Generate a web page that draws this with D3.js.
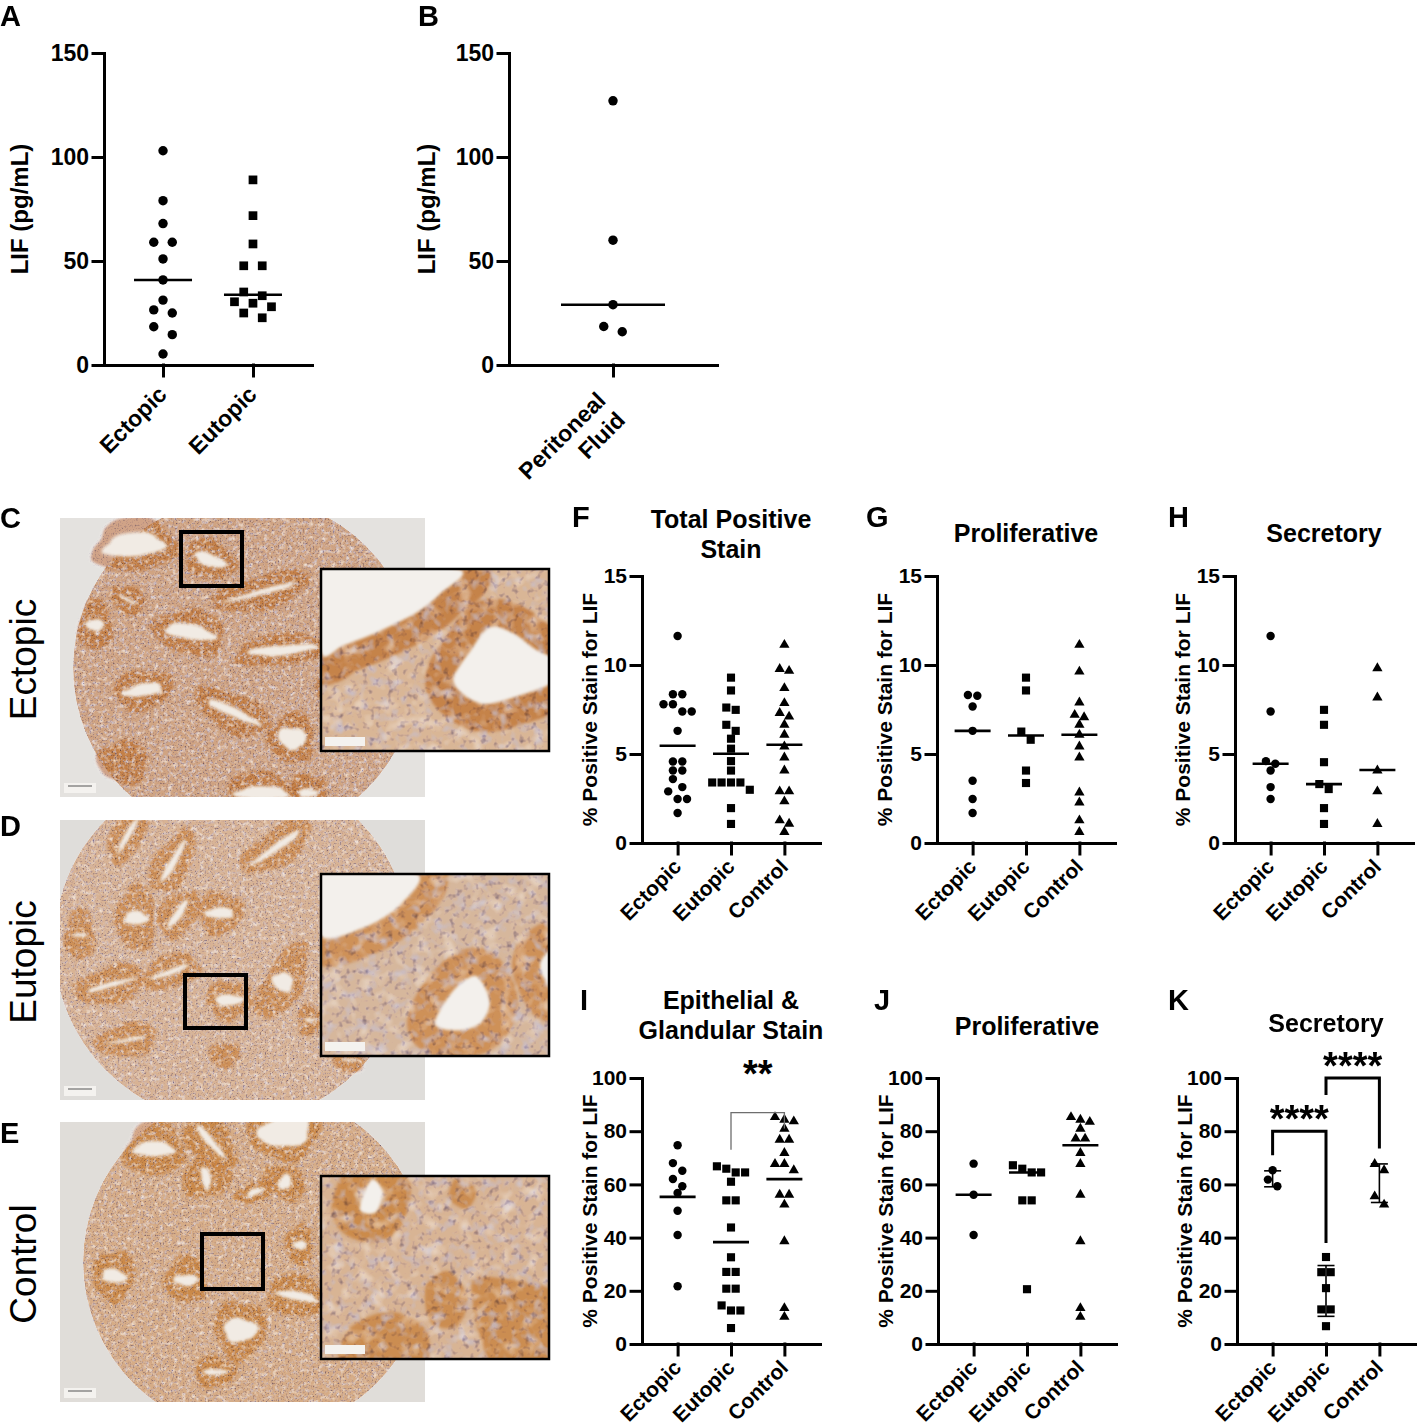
<!DOCTYPE html>
<html>
<head>
<meta charset="utf-8">
<script src="https://cdn.jsdelivr.net/npm/d3@7"></script>
<style>
  body { margin: 0; background: #fff; }
  svg { display: block; }
</style>
</head>
<body>
<svg id="fig"></svg>
<script>
const FONT = '"Liberation Sans", Arial, Helvetica, sans-serif';
const width = 1418, height = 1428;

// ---- categories and ticks
const groupsAB = ["Ectopic", "Eutopic"];
const groupsFK = ["Ectopic", "Eutopic", "Control"];
const fluidCats = ["Peritoneal\nFluid"];
const ticksLIF = [0, 50, 100, 150];
const ticksPct15 = [0, 5, 10, 15];
const ticksPct100 = [0, 20, 40, 60, 80, 100];

// ---- A: LIF (pg/mL), tissue lysate
const serumEctopic = [103, 79, 68, 59, 59, 51, 40.9, 31.2, 26.5, 25, 18.4, 14.6, 5.3];
const serumEutopic = [89, 71.8, 58.2, 47.7, 47.7, 35.1, 33.3, 30.4, 29.7, 28, 25, 22.7];
const serumLines = [40.9, 33.8];

// ---- B: peritoneal fluid
const fluidValues = [127, 60, 29, 18.5, 16];
const fluidLines = [29];

// ---- F: total positive stain
const totalEctopic = [11.63, 8.36, 8.36, 7.8, 7.8, 7.39, 7.39, 6.3, 4.58, 4.58, 4.07, 4.07, 3.59, 3.14, 2.9, 2.47, 2.47, 1.68];
const totalEutopic = [9.29, 8.57, 7.61, 7.48, 6.64, 6.3, 5.86, 5.3, 4.6, 4.07, 3.4, 3.4, 3.4, 3.4, 2.99, 1.96, 1.07];
const totalControl = [11.13, 9.78, 9.67, 8.7, 7.86, 7.3, 7.1, 6.64, 6.08, 5.42, 4.8, 4.07, 2.9, 2.9, 2.34, 1.27, 1.08, 0.62];
const totalLines = [5.46, 5.01, 5.52];

// ---- G: total stain, proliferative
const prolEctopic = [8.32, 8.27, 7.67, 6.3, 3.5, 2.47, 1.68];
const prolEutopic = [9.29, 8.57, 6.26, 5.8, 4.07, 3.37];
const prolControl = [11.13, 9.63, 7.89, 7.2, 7.07, 6.64, 6.08, 5.42, 4.8, 2.84, 2.28, 1.27, 0.62];
const prolLines = [6.3, 6.04, 6.08];

// ---- H: total stain, secretory
const secrEctopic = [11.63, 7.39, 4.6, 4.45, 4.07, 3.14, 2.47];
const secrEutopic = [7.48, 6.64, 4.54, 3.31, 3.03, 1.96, 1.07];
const secrControl = [9.82, 8.17, 4.07, 2.9, 1.07];
const secrLines = [4.45, 3.31, 4.1];

// ---- I: epithelial & glandular stain
const epiEctopic = [74.7, 68, 65.1, 62, 59.3, 56.8, 50.1, 41, 21.7];
const epiEutopic = [66.8, 65.9, 64.5, 64.5, 61, 54, 54, 43.8, 32.6, 27.1, 27.1, 20.8, 20.8, 14.5, 12.6, 12.6, 6];
const epiControl = [85.3, 84.3, 83.7, 80.9, 76.8, 76.8, 71.8, 67.7, 67.7, 65.3, 56.1, 56.1, 52.4, 38.6, 13.5, 10.2];
const epiLines = [55.3, 38.3, 62];
const epiSig = [{ a: "Eutopic", b: "Control", level: 87, legA: 73, legB: 81, label: "**" }];

// ---- J: epithelial, proliferative
const epiProlEctopic = [67.8, 56.1, 41];
const epiProlEutopic = [67.2, 65.9, 64.5, 64.5, 54, 54, 20.6];
const epiProlControl = [85.3, 84.3, 83.5, 80.9, 77.2, 77.2, 71.8, 67.7, 56.1, 38.6, 13.5, 10.2];
const epiProlLines = [56.1, 64.5, 74.7];

// ---- K: epithelial, secretory (mean +/- SD)
const epiSecrEctopic = [65.3, 61.8, 59.3];
const epiSecrEutopic = [32.7, 27, 27, 21, 13, 13, 6.7];
const epiSecrControl = [67.7, 65.3, 55.5, 52.4];
const epiSecrLow = [59.1, 10.4, 53.2];
const epiSecrHigh = [65.1, 29.5, 67.7];
const epiSecrSig = [
  { a: "Ectopic", b: "Eutopic", level: 80, legA: 71, legB: 38, label: "****" },
  { a: "Eutopic", b: "Control", level: 100, legA: 93.6, legB: 73.5, label: "****" }
];

const svg = d3.select("#fig").attr("width", width).attr("height", height)
  .attr("viewBox", [0, 0, width, height]);
const defs = svg.append("defs");

const symbolTypes = [d3.symbolCircle, d3.symbolSquare, d3.symbolTriangle];

// GraphPad-like scatter: points close in y share a row, spread around the centre
function swarm(values, y, spacing, thresh) {
  const pts = values.map(v => ({ v, py: y(v) })).sort((a, b) => a.py - b.py);
  const out = [];
  let row = [];
  const flush = () => {
    row.forEach((p, i) => { p.dx = (i - (row.length - 1) / 2) * spacing; out.push(p); });
    row = [];
  };
  pts.forEach(p => {
    if (row.length && p.py - row[0].py > thresh) flush();
    row.push(p);
  });
  flush();
  return out;
}

function styleAxis(ax, fs) {
  ax.attr("font-family", FONT).attr("font-size", fs).attr("font-weight", "bold");
  ax.selectAll(".domain, .tick line")
    .attr("stroke", "#000").attr("stroke-width", 3).attr("stroke-linecap", "square");
  ax.selectAll(".tick text").attr("fill", "#000");
}

function dotPanel(p) {
  const g = svg.append("g");
  const x = d3.scalePoint().domain(p.cats).range([p.ax, p.ax + p.w]).padding(p.pad);
  const y = d3.scaleLinear().domain([0, p.max]).range([p.y0, p.yTop]);

  g.append("g").attr("transform", `translate(${p.ax},0)`)
    .call(d3.axisLeft(y).tickValues(p.ticks).tickSize(11).tickSizeOuter(0).tickPadding(4))
    .call(styleAxis, p.tickFont);

  g.append("g").attr("transform", `translate(0,${p.y0})`)
    .call(d3.axisBottom(x).tickSize(11).tickSizeOuter(0).tickFormat(""))
    .call(styleAxis, p.tickFont);

  // category labels, rotated
  p.cats.forEach(c => {
    const t = g.append("text")
      .attr("transform", `translate(${x(c) + p.catDx},${p.y0 + p.catDy}) rotate(-45)`)
      .attr("text-anchor", "end")
      .attr("font-family", FONT).attr("font-size", p.catFont).attr("font-weight", "bold");
    c.split("\n").forEach((l, i) => t.append("tspan").attr("x", 0).attr("dy", i ? "1.2em" : 0).text(l));
  });

  // y title
  g.append("text")
    .attr("transform", `translate(${p.ax - p.titleDx},${(p.y0 + p.yTop) / 2}) rotate(-90)`)
    .attr("text-anchor", "middle")
    .attr("font-family", FONT).attr("font-size", p.titleFont).attr("font-weight", "bold")
    .text(p.yTitle);

  // points
  p.series.forEach((vals, i) => {
    const c = p.cats[i];
    const pts = swarm(vals, y, p.spacing, p.thresh);
    g.append("g").selectAll("path").data(pts).join("path")
      .attr("transform", d => `translate(${x(c) + d.dx},${d.py})`)
      .attr("d", d3.symbol(symbolTypes[i], p.sizes[i]))
      .attr("fill", "#000");
  });

  // centre lines
  if (p.lines) {
    g.append("g").selectAll("line").data(p.lines).join("line")
      .attr("x1", (d, i) => x(p.cats[i]) - p.lineHalf)
      .attr("x2", (d, i) => x(p.cats[i]) + p.lineHalf)
      .attr("y1", d => y(d)).attr("y2", d => y(d))
      .attr("stroke", "#000").attr("stroke-width", 2.6);
  }

  // error bars (mean +/- SD)
  if (p.low) {
    const eb = g.append("g").attr("stroke", "#000").attr("stroke-width", 1.6);
    p.low.forEach((lo, i) => {
      const cx = x(p.cats[i]), hi = p.high[i];
      eb.append("line").attr("x1", cx).attr("x2", cx).attr("y1", y(lo)).attr("y2", y(hi));
      [lo, hi].forEach(v => eb.append("line")
        .attr("x1", cx - 8.5).attr("x2", cx + 8.5).attr("y1", y(v)).attr("y2", y(v)));
    });
  }

  // significance brackets
  (p.sig || []).forEach(s => {
    const xa = x(s.a), xb = x(s.b);
    g.append("path")
      .attr("d", `M${xa},${y(s.legA)}V${y(s.level)}H${xb}V${y(s.legB)}`)
      .attr("fill", "none")
      .attr("stroke", p.sigColor).attr("stroke-width", p.sigWidth);
    g.append("text")
      .attr("x", (xa + xb) / 2).attr("y", y(s.level) + p.starDy)
      .attr("text-anchor", "middle")
      .attr("font-family", FONT).attr("font-size", 38).attr("font-weight", "bold")
      .text(s.label);
  });

  // panel title
  if (p.title) {
    p.title.forEach((t, i) => g.append("text")
      .attr("x", p.ax + p.w / 2).attr("y", p.titleY + i * 30)
      .attr("text-anchor", "middle")
      .attr("font-family", FONT).attr("font-size", 25).attr("font-weight", "bold")
      .text(t));
  }
}

const topRow = { cats: groupsFK, ticks: ticksPct15, max: 15, w: 178, pad: 0.667, y0: 843, yTop: 576,
  tickFont: 21, catFont: 21, catDx: 5, catDy: 25, titleFont: 21, titleDx: 45,
  yTitle: "% Positive Stain for LIF", spacing: 9.4, thresh: 8.5, sizes: [56, 66, 46], lineHalf: 18 };
const botRow = Object.assign({}, topRow, { ticks: ticksPct100, max: 100, y0: 1344, yTop: 1078 });

const panels = [
  { cats: groupsAB, ticks: ticksLIF, max: 150, ax: 104, w: 208, pad: 0.656, y0: 365, yTop: 53,
    tickFont: 23, catFont: 23, catDx: 5, catDy: 31, titleFont: 24, titleDx: 76, yTitle: "LIF (pg/mL)",
    series: [serumEctopic, serumEutopic], lines: serumLines, spacing: 18.5, thresh: 9,
    sizes: [70, 76], lineHalf: 29 },
  { cats: fluidCats, ticks: ticksLIF, max: 150, ax: 509, w: 208, pad: 0.5, y0: 365, yTop: 53,
    tickFont: 23, catFont: 23, catDx: -6, catDy: 37, titleFont: 24, titleDx: 74, yTitle: "LIF (pg/mL)",
    series: [fluidValues], lines: fluidLines, spacing: 18.5, thresh: 9, sizes: [70], lineHalf: 52 },
  Object.assign({}, topRow, { ax: 642, series: [totalEctopic, totalEutopic, totalControl], lines: totalLines,
    title: ["Total Positive", "Stain"], titleY: 528 }),
  Object.assign({}, topRow, { ax: 937, series: [prolEctopic, prolEutopic, prolControl], lines: prolLines,
    title: ["Proliferative"], titleY: 542 }),
  Object.assign({}, topRow, { ax: 1235, series: [secrEctopic, secrEutopic, secrControl], lines: secrLines,
    title: ["Secretory"], titleY: 542 }),
  Object.assign({}, botRow, { ax: 642, series: [epiEctopic, epiEutopic, epiControl], lines: epiLines,
    title: ["Epithelial &", "Glandular Stain"], titleY: 1009,
    sig: epiSig, sigColor: "#6e6e6e", sigWidth: 1.3, starDy: -26 }),
  Object.assign({}, botRow, { ax: 938, series: [epiProlEctopic, epiProlEutopic, epiProlControl], lines: epiProlLines,
    title: ["Proliferative"], titleY: 1035 }),
  Object.assign({}, botRow, { ax: 1237, series: [epiSecrEctopic, epiSecrEutopic, epiSecrControl],
    low: epiSecrLow, high: epiSecrHigh, title: ["Secretory"], titleY: 1032,
    sig: epiSecrSig, sigColor: "#000", sigWidth: 3, starDy: 1 })
];

// ---------------- stained tissue micrographs (C, D, E) ----------------
function grainFilter(id, freq, seed, gain) {
  const f = defs.append("filter").attr("id", id).attr("x", 0).attr("y", 0).attr("width", 1).attr("height", 1);
  f.append("feTurbulence").attr("type", "fractalNoise").attr("baseFrequency", freq)
    .attr("numOctaves", 2).attr("seed", seed).attr("result", "n");
  f.append("feColorMatrix").attr("in", "n").attr("type", "matrix")
    .attr("values", `${gain} 0 0 0 ${1.1 - gain / 2}  ${gain} 0 0 0 ${1.08 - gain / 2}  ${gain * 0.75} 0 0 0 ${1.12 - gain * 0.375}  0 0 0 0 1`)
    .attr("result", "g");
  f.append("feBlend").attr("in", "SourceGraphic").attr("in2", "g").attr("mode", "multiply").attr("result", "m");
  f.append("feComposite").attr("in", "m").attr("in2", "SourceGraphic").attr("operator", "in");
}
function mottleFilter(id, freq, seed, rgb, k, oct) {
  const f = defs.append("filter").attr("id", id).attr("x", 0).attr("y", 0).attr("width", 1).attr("height", 1);
  f.append("feTurbulence").attr("type", "fractalNoise").attr("baseFrequency", freq)
    .attr("numOctaves", oct).attr("seed", seed).attr("result", "n");
  f.append("feColorMatrix").attr("in", "n").attr("type", "matrix")
    .attr("values", `0 0 0 0 ${rgb[0]}  0 0 0 0 ${rgb[1]}  0 0 0 0 ${rgb[2]}  ${k} 0 0 0 ${-k * 0.5}`)
    .attr("result", "c");
  f.append("feComposite").attr("in", "c").attr("in2", "SourceGraphic").attr("operator", "in");
}
grainFilter("grainFine", 0.6, 4, 2.2);
grainFilter("grainCoarse", 0.16, 9, 1.8);
mottleFilter("purple", 0.28, 2, [0.6, 0.55, 0.64], 2.8, 2);
mottleFilter("purpleBig", 0.09, 5, [0.56, 0.52, 0.64], 2.8, 2);
mottleFilter("pale", 0.22, 8, [0.97, 0.93, 0.89], 2.6, 2);
mottleFilter("paleBig", 0.07, 11, [0.97, 0.93, 0.89], 2.4, 2);
defs.append("filter").attr("id", "soft")
  .attr("filterUnits", "userSpaceOnUse").attr("x", 0).attr("y", 0).attr("width", width).attr("height", height)
  .append("feGaussianBlur").attr("stdDeviation", 1.6);

const micrographs = [
  { key: "C", label: "Ectopic", img: [60, 518, 365, 279], bg: "#e4e2df", tissue: [245, 668, 172],
    base: "#d0a482", purple: 0.9, band: "#c27a3c",
    // [cx, cy, length, width, angle, lumen fraction]
    glands: [[134, 545, 72, 44, -5, 0.55], [210, 560, 40, 28, 20, 0.45], [262, 592, 90, 22, -15, 0.25],
      [190, 632, 60, 34, 10, 0.45], [282, 650, 84, 20, -5, 0.5], [143, 690, 48, 28, -10, 0.45],
      [233, 712, 70, 26, 25, 0.35], [292, 738, 34, 40, 10, 0.55], [262, 793, 64, 30, 0, 0.45],
      [308, 793, 24, 30, 0, 0.3], [123, 762, 40, 32, 0, 0], [95, 625, 22, 40, 0, 0.3],
      [402, 720, 20, 50, 0, 0.2], [335, 690, 26, 22, 0, 0.3], [128, 600, 24, 16, 30, 0.2]],
    box: [181, 532, 61, 54], inset: [321, 569, 228, 182],
    lumens: [[[0, 0], [0.6, 0], [0.52, 0.14], [0.42, 0.24], [0.26, 0.34], [0.1, 0.42], [0, 0.46]],
      [[0.58, 0.62], [0.66, 0.44], [0.74, 0.32], [0.84, 0.35], [0.94, 0.44], [1.02, 0.5], [1.02, 0.62], [0.86, 0.7], [0.7, 0.74]]],
    insetGlands: [], insetTone: "#d9b696" },
  { key: "D", label: "Eutopic", img: [60, 820, 365, 280], bg: "#dfddda", tissue: [232, 945, 178],
    base: "#d8b394", purple: 0.7, band: "#cc8a4e",
    glands: [[128, 835, 50, 20, -60, 0.3], [173, 862, 58, 24, -60, 0.3], [277, 847, 70, 24, -35, 0.3],
      [136, 918, 28, 56, 0, 0.25], [178, 914, 40, 26, -55, 0.3], [220, 913, 34, 32, 0, 0.35],
      [110, 985, 60, 26, -15, 0.2], [170, 972, 50, 22, -20, 0.25], [283, 982, 26, 75, 30, 0.25],
      [229, 1000, 34, 28, 0, 0.4], [127, 1040, 50, 22, -10, 0.15], [80, 935, 18, 40, 0, 0.1],
      [310, 1020, 14, 20, 0, 0.2], [225, 1055, 20, 14, 0, 0], [350, 1060, 20, 14, 0, 0.2]],
    box: [185, 975, 61, 53], inset: [321, 874, 228, 182],
    lumens: [[[0, 0], [0.42, 0], [0.34, 0.18], [0.18, 0.3], [0, 0.34]],
      [[0.5, 0.82], [0.58, 0.64], [0.68, 0.56], [0.74, 0.7], [0.7, 0.82], [0.6, 0.86]],
      [[0.96, 0.5], [1.02, 0.42], [1.02, 0.66]]],
    insetGlands: [], insetTone: "#d6b79c" },
  { key: "E", label: "Control", img: [60, 1122, 365, 280], bg: "#e0ddd9", tissue: [255, 1262, 172],
    base: "#d6ac86", purple: 0.7, band: "#c9843f",
    glands: [[154, 1149, 48, 44, 0, 0.35], [210, 1141, 52, 30, 50, 0.25], [285, 1131, 62, 46, -10, 0.7],
      [206, 1178, 28, 38, 80, 0.25], [285, 1182, 20, 34, -60, 0.35], [255, 1192, 8, 30, 70, 0.6],
      [114, 1276, 30, 40, 10, 0.35], [186, 1280, 30, 36, 0, 0.3], [297, 1296, 50, 30, 10, 0.3],
      [240, 1330, 40, 48, 0, 0.5], [300, 1245, 16, 30, 0, 0.3], [348, 1320, 20, 28, 0, 0.3],
      [215, 1372, 30, 20, 0, 0.3], [368, 1210, 18, 26, 0, 0.2]],
    box: [202, 1234, 61, 55], inset: [321, 1176, 228, 183],
    lumens: [[[0.17, 0.18], [0.22, 0.02], [0.27, 0.08], [0.24, 0.2]]],
    insetGlands: [[[0.12, 0.84], [0.3, 0.74], [0.46, 0.84], [0.44, 1.05], [0.1, 1.05]],
      [[0.46, 0.6], [0.56, 0.52], [0.64, 0.66], [0.6, 0.82], [0.48, 0.8]],
      [[0.66, 0.6], [0.8, 0.56], [1.05, 0.66], [1.05, 1.05], [0.76, 1.05]],
      [[0.6, 0.0], [0.68, 0.08], [0.64, 0.18], [0.56, 0.12]]],
    insetTone: "#d8b494" }
];

const closed = d3.line().curve(d3.curveCardinalClosed.tension(0.1));

// organic outline for a gland: ellipse with a gentle deterministic wobble
function glandPath(cx, cy, len, wid, ang, scale, phase) {
  const a = ang * Math.PI / 180;
  const pts = d3.range(16).map(i => {
    const t = i / 16 * 2 * Math.PI;
    const wob = 1 + 0.1 * Math.sin(3 * t + phase) + 0.06 * Math.sin(5 * t + 2 * phase);
    const px = Math.cos(t) * len / 2 * wob * scale[0], py = Math.sin(t) * wid / 2 * wob * scale[1];
    return [cx + px * Math.cos(a) - py * Math.sin(a), cy + px * Math.sin(a) + py * Math.cos(a)];
  });
  return closed(pts);
}

function drawMicrograph(m) {
  const [ix, iy, iw, ih] = m.img;
  const clipId = "clip" + m.key;
  defs.append("clipPath").attr("id", clipId).append("rect")
    .attr("x", ix).attr("y", iy).attr("width", iw).attr("height", ih);
  const g = svg.append("g");
  g.append("rect").attr("x", ix).attr("y", iy).attr("width", iw).attr("height", ih).attr("fill", m.bg);

  const t = g.append("g").attr("clip-path", `url(#${clipId})`);
  const [cx, cy, r] = m.tissue;
  const tex = t.append("g").attr("filter", "url(#grainFine)");
  tex.append("circle").attr("cx", cx).attr("cy", cy).attr("r", r).attr("fill", m.base);
  const bands = tex.append("g").attr("filter", "url(#soft)");
  m.glands.forEach((d, i) => bands.append("path")
    .attr("d", glandPath(d[0], d[1], d[2] + 12, d[3] + 12, d[4], [1, 1], i * 1.7))
    .attr("fill", m.band).attr("opacity", 0.85));
  tex.append("circle").attr("cx", cx).attr("cy", cy).attr("r", r).attr("fill", "#000")
    .attr("filter", "url(#purple)").attr("opacity", m.purple);
  tex.append("circle").attr("cx", cx).attr("cy", cy).attr("r", r).attr("fill", "#000")
    .attr("filter", "url(#pale)").attr("opacity", 0.7);
  const lum = t.append("g").attr("filter", "url(#soft)");
  m.glands.filter(d => d[5] > 0).forEach((d, i) => lum.append("path")
    .attr("d", glandPath(d[0], d[1], d[2], d[3], d[4], [0.85, d[5]], i * 2.3))
    .attr("fill", "#f1ebe4"));

  // scale bar
  g.append("rect").attr("x", ix + 4).attr("y", iy + ih - 14).attr("width", 32).attr("height", 10).attr("fill", "#f4f2ef");
  g.append("line").attr("x1", ix + 8).attr("x2", ix + 32).attr("y1", iy + ih - 11).attr("y2", iy + ih - 11)
    .attr("stroke", "#555").attr("stroke-width", 1);

  // boxed region
  const [bx, by, bw, bh] = m.box;
  g.append("rect").attr("x", bx).attr("y", by).attr("width", bw).attr("height", bh)
    .attr("fill", "none").attr("stroke", "#000").attr("stroke-width", 4);

  // magnified inset
  const [nx, ny, nw, nh] = m.inset;
  const insetClip = "inset" + m.key;
  defs.append("clipPath").attr("id", insetClip).append("rect")
    .attr("x", nx).attr("y", ny).attr("width", nw).attr("height", nh);
  const n = g.append("g").attr("clip-path", `url(#${insetClip})`);
  const ntex = n.append("g").attr("filter", "url(#grainCoarse)");
  ntex.append("rect").attr("x", nx).attr("y", ny).attr("width", nw).attr("height", nh).attr("fill", m.insetTone);
  const toPx = pts => pts.map(([u, v]) => [nx + u * nw, ny + v * nh]);
  const nb = ntex.append("g").attr("filter", "url(#soft)");
  m.insetGlands.forEach(b => nb.append("path").attr("d", closed(toPx(b))).attr("fill", "#c98645").attr("opacity", 0.85));
  m.lumens.forEach(l => nb.append("path").attr("d", closed(toPx(l)))
    .attr("fill", "none").attr("stroke", m.band).attr("stroke-width", 56).attr("opacity", 0.85));
  ntex.append("rect").attr("x", nx).attr("y", ny).attr("width", nw).attr("height", nh).attr("fill", "#000")
    .attr("filter", "url(#purpleBig)").attr("opacity", 0.75);
  ntex.append("rect").attr("x", nx).attr("y", ny).attr("width", nw).attr("height", nh).attr("fill", "#000")
    .attr("filter", "url(#paleBig)").attr("opacity", 0.5);
  const nl = n.append("g").attr("filter", "url(#soft)");
  m.lumens.forEach(l => nl.append("path").attr("d", closed(toPx(l))).attr("fill", "#f3f0ec"));
  g.append("rect").attr("x", nx + 4).attr("y", ny + nh - 14).attr("width", 40).attr("height", 9).attr("fill", "#f4f2ef");
  g.append("rect").attr("x", nx).attr("y", ny).attr("width", nw).attr("height", nh)
    .attr("fill", "none").attr("stroke", "#000").attr("stroke-width", 2.5);

  // row label
  g.append("text")
    .attr("transform", `translate(36,${iy + ih / 2 + 2}) rotate(-90)`)
    .attr("text-anchor", "middle")
    .attr("font-family", FONT).attr("font-size", 37)
    .text(m.label);
}

micrographs.forEach(drawMicrograph);
panels.forEach(dotPanel);

// panel letters
const letters = [["A", 0, 26], ["B", 418, 26], ["C", 0, 528], ["D", 0, 836], ["E", 0, 1143],
  ["F", 572, 527], ["G", 866, 527], ["H", 1168, 527], ["I", 580, 1010], ["J", 874, 1010], ["K", 1168, 1010]];
svg.append("g").selectAll("text").data(letters).join("text")
  .attr("x", d => d[1]).attr("y", d => d[2])
  .attr("font-family", FONT).attr("font-size", 29).attr("font-weight", "bold")
  .text(d => d[0]);
</script>
</body>
</html>
